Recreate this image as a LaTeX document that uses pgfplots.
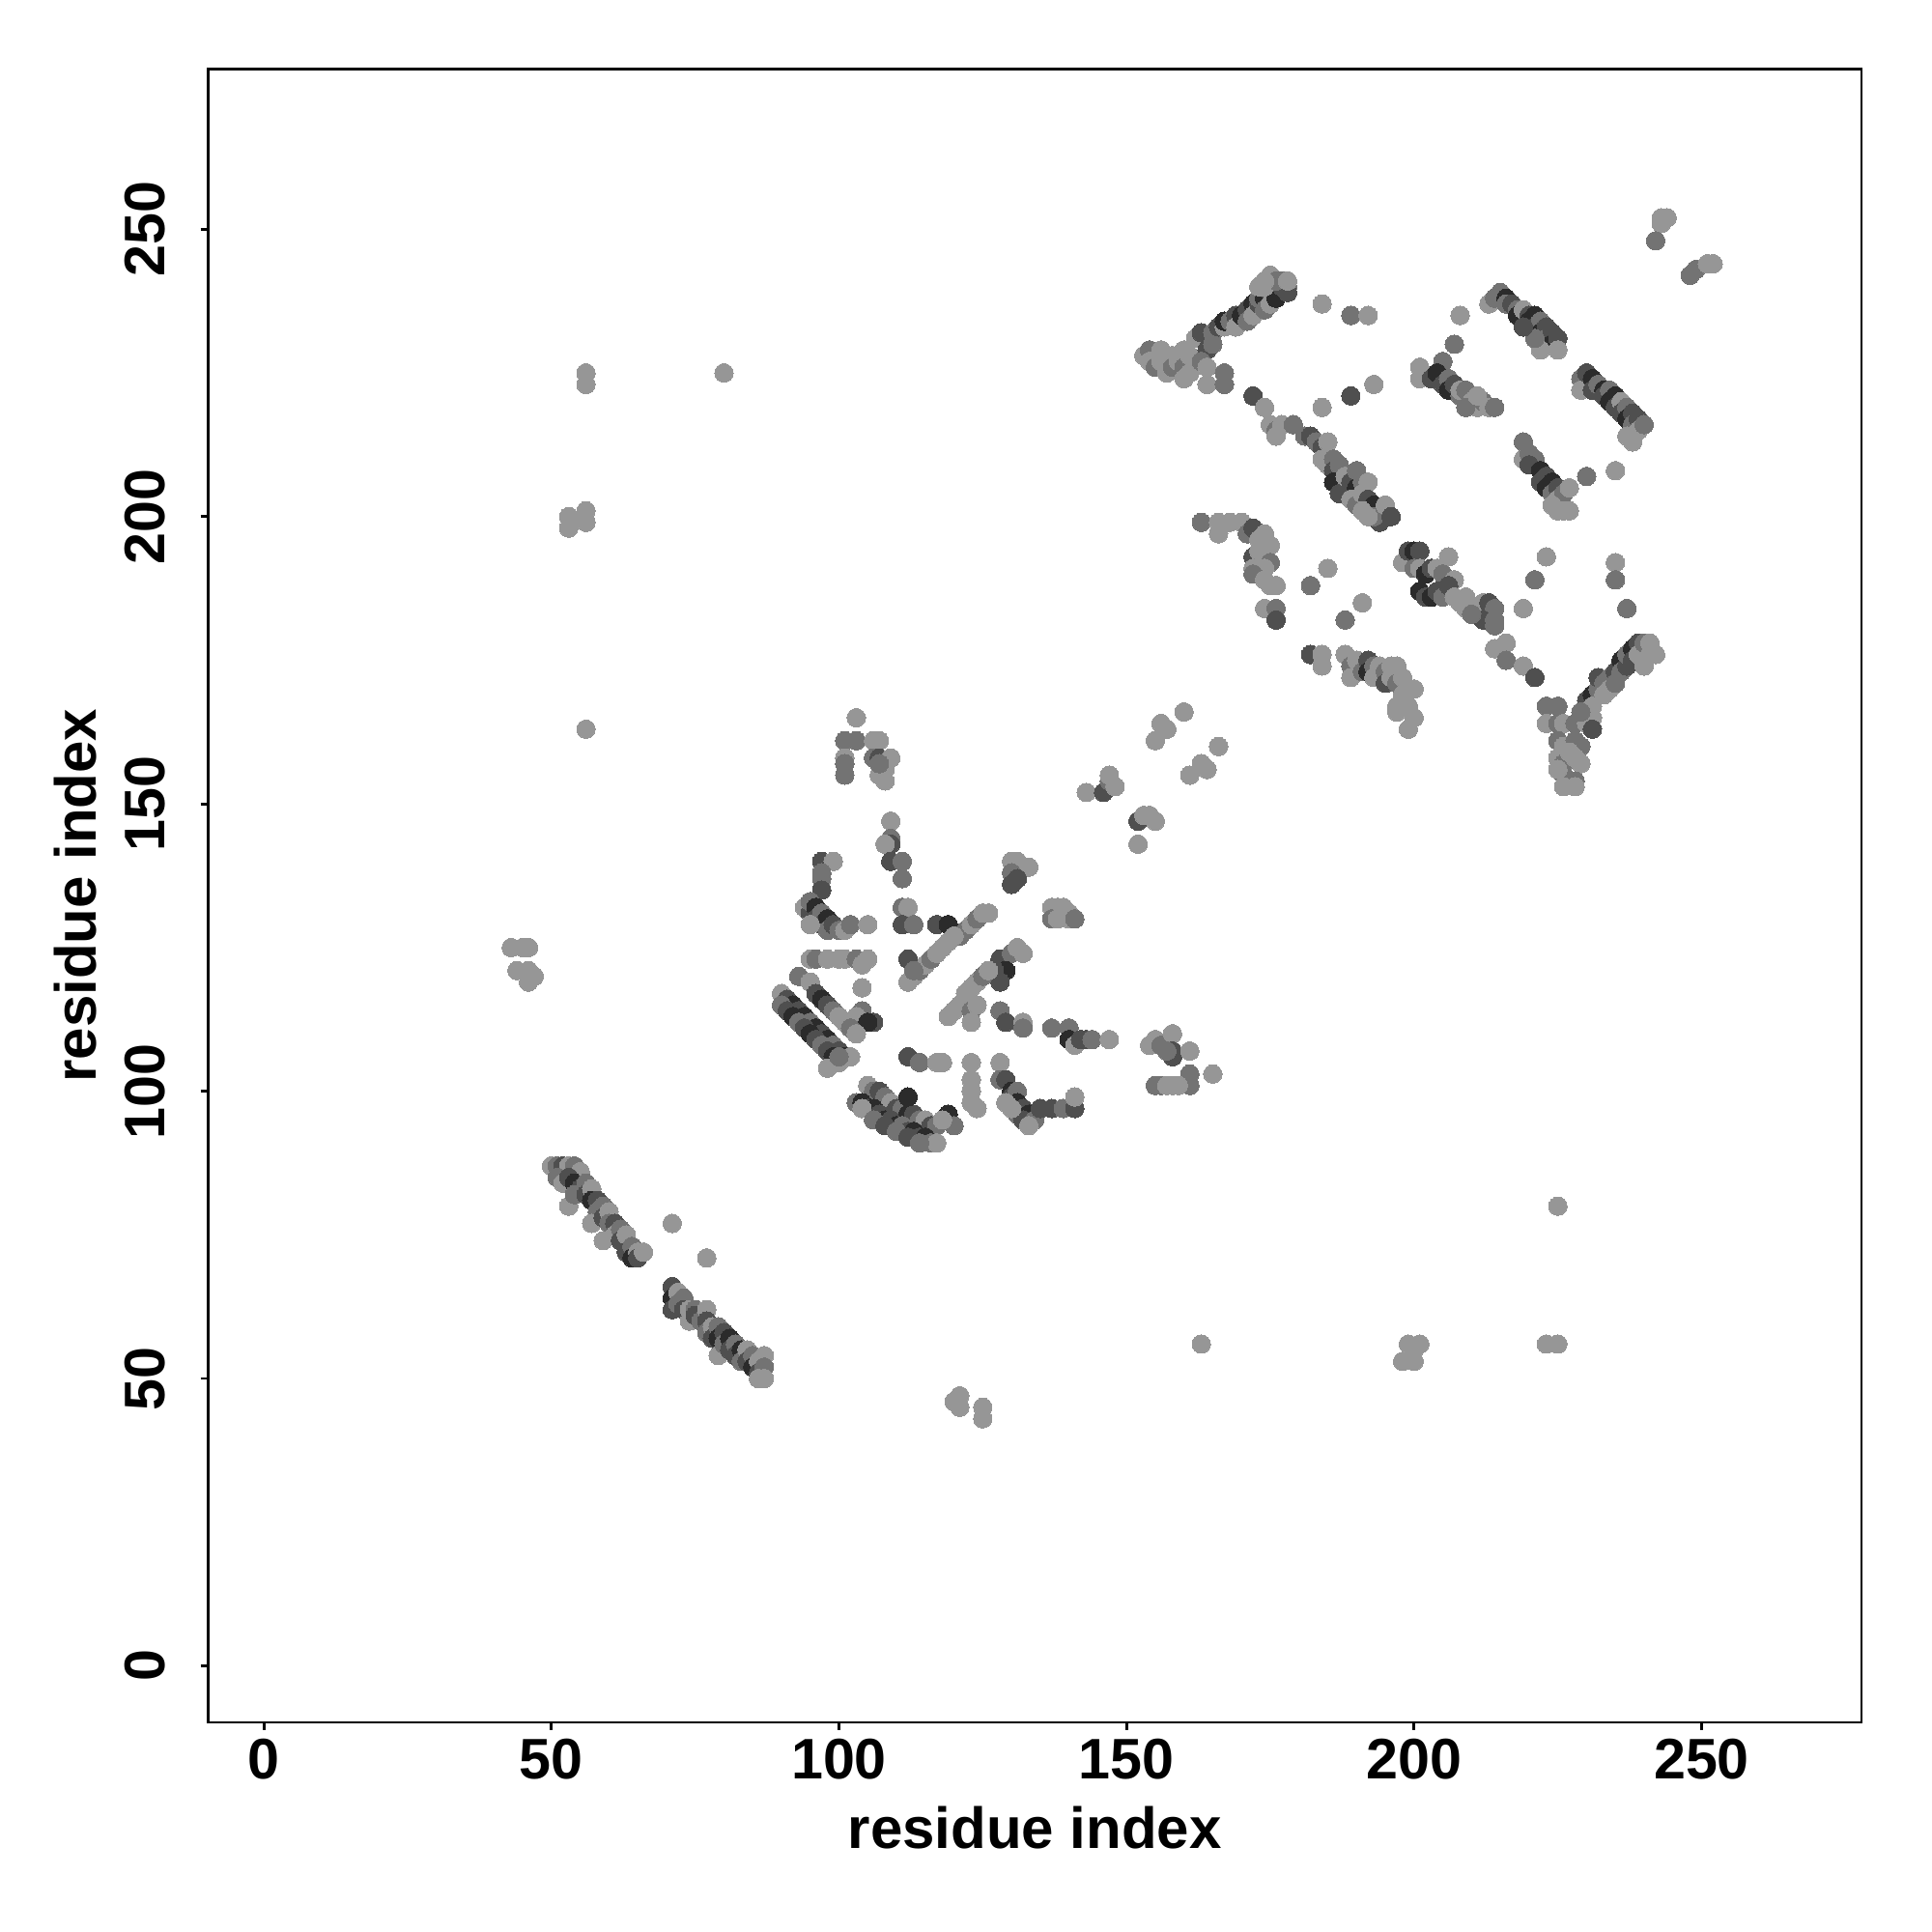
\documentclass[border=0pt]{standalone}
\usepackage{fontspec}
\setmainfont{Liberation Sans}
\usepackage{graphicx}
\usepackage{pgfplots}
\pgfplotsset{compat=1.18}
\begin{document}
\begin{tikzpicture}
\useasboundingbox (0,0) rectangle (500pt,500pt);
\begin{axis}[
  at={(53.9pt,54.25pt)}, anchor=south west,
  scale only axis, width=427.85pt, height=427.9pt,
  xmin=-9.68, xmax=277.8, ymin=-9.83, ymax=277.9,
  xtick={0,50,...,250}, ytick={0,50,...,250},
  tick align=outside, major tick length=2pt,
  xtick pos=left, ytick pos=left,
  axis line style={line width=0.7pt},
  every tick/.style={black, line width=0.7pt},
  tick label style={font=\fontsize{14.8}{17}\selectfont\bfseries},
  /pgf/number format/assume math mode=true,
  xticklabel style={anchor=north, inner sep=0pt, yshift=-2.1pt},
  yticklabel={\rotatebox{90}{\pgfmathprintnumber{\tick}}},
  yticklabel style={anchor=east, inner sep=0pt, xshift=-8.9pt},
  xlabel={residue index}, ylabel={residue index},
  label style={font=\fontsize{15}{18}\selectfont\bfseries},
  xlabel style={at={(axis description cs:0.5,-0.076)}, anchor=base},
  ylabel style={at={(axis description cs:-0.068,0.5)}, anchor=base},
  colormap={bw}{gray(0cm)=(0.12); gray(1cm)=(0.59)},
  point meta min=0, point meta max=1,
]
% contacts, c = grey level (0 dark .. 1 light)
\addplot[scatter, only marks, mark=*, mark size=2.4pt, scatter src=explicit,
  mark options={line width=0pt},
  scatter/use mapped color={draw=mapped color, fill=mapped color}]
  table[row sep=\\, meta=c] {
x y c\\
50 87 1\\51 87 .7\\52 87 .4\\53 87 1\\54 87 .7\\55 86 1\\51 85 .7\\52 84 1\\53 85 .4\\54 84 .1\\
55 83 .4\\53 80 1\\54 82 .7\\56 84 .7\\56 82 .4\\57 83 1\\57 81 .1\\58 81 .4\\58 79 .7\\59 80 .7\\
57 77 1\\59 78 .4\\60 79 1\\60 77 .7\\61 77 .4\\61 75 1\\59 74 1\\62 76 .7\\62 74 .4\\63 75 1\\
63 72 .4\\64 73 .7\\64 71 .1\\65 72 1\\65 71 .4\\66 72 1\\71 77 1\\77 71 1\\
71 66 .4\\71 64 .1\\71 62 .4\\72 65 1\\72 63 .7\\73 64 .7\\73 62 .4\\74 60 1\\74 62 1\\75 62 .7\\
75 61 .4\\76 60 .7\\77 62 1\\77 60 .4\\77 58 .7\\78 59 1\\78 57 .4\\79 59 .7\\79 57 .1\\80 58 .4\\
79 54 1\\80 56 .7\\81 57 .1\\81 55 .4\\82 56 .7\\82 54 .4\\83 55 .1\\83 53 .7\\84 55 1\\84 53 .4\\
85 54 .7\\85 52 .1\\86 53 1\\86 51 .4\\87 54 1\\87 52 .7\\87 50 1\\86 50 1\\
56 225 1\\56 223 1\\80 225 1\\53 200 1\\53 198 1\\56 201 1\\56 199 1\\56 163 1\\
43 125 1\\45 125 1\\46 125 1\\44 121 1\\46 121 1\\46 119 1\\47 120 1\\
120 46 1\\121 47 1\\121 45 1\\125 45 1\\125 43 1\\163 56 1\\199 56 1\\201 56 1\\198 53 1\\200 53 1\\
200 55 1\\223 56 1\\225 56 1\\225 80 1\\
243 252 1\\244 252 1\\243 251 1\\242 248 .7\\248 242 .7\\249 243 .7\\251 244 1\\252 244 1\\
103 165 1\\101 161 .7\\103 161 .7\\106 161 1\\107 161 1\\101 158 1\\101 157 .7\\101 155 .7\\
106 158 .7\\107 158 .4\\109 158 1\\108 156 1\\107 155 1\\108 154 1\\107 157 .7\\109 147 1\\
109 144 .7\\109 143 .4\\108 143 1\\109 140 .4\\111 140 .7\\111 137 .7\\97 140 .4\\99 140 1\\
97 138 .7\\97 137 .7\\97 135 .4\\111 132 .7\\112 132 1\\
94 132 1\\95 131 .4\\95 133 .7\\96 132 .1\\96 130 .4\\97 131 .7\\97 129 .4\\98 130 .1\\98 128 .7\\
99 129 .4\\100 128 .7\\101 128 1\\102 129 .7\\95 129 1\\105 129 1\\
111 129 .4\\113 129 .7\\117 129 .4\\119 129 .1\\
121 127 .7\\122 128 .7\\123 129 1\\124 130 .7\\125 131 1\\126 131 1\\
130 140 1\\131 140 1\\132 139 1\\133 139 1\\130 138 .7\\131 137 .4\\130 136 .4\\
137 132 1\\138 132 1\\139 132 1\\140 131 1\\137 130 .7\\138 130 1\\140 130 1\\141 130 .7\\
95 123 1\\96 123 .7\\98 123 1\\100 123 1\\101 123 1\\103 123 .7\\105 123 1\\104 122 1\\
112 119 1\\113 120 1\\114 121 .7\\115 122 1\\116 123 .7\\117 124 1\\118 125 1\\119 126 1\\
120 127 1\\112 123 .4\\113 121 .7\\
104 118 1\\104 114 .7\\106 112 .4\\103 113 1\\105 112 .1\\
128 123 .4\\130 124 .7\\131 125 1\\132 124 1\\129 121 .1\\128 119 .4\\127 121 .4\\
119 113 1\\120 114 1\\121 115 1\\122 117 1\\123 118 1\\124 119 1\\125 120 .7\\126 121 1\\
123 114 .7\\123 112 1\\124 115 1\\
128 114 .7\\129 112 .4\\132 112 1\\132 111 .7\\
93 120 .7\\95 119 1\\96 117 .4\\97 116 .1\\98 115 .4\\99 114 .7\\100 113 1\\101 112 1\\102 111 .7\\103 110 1\\
90 117 1\\91 116 .4\\92 115 .1\\93 114 .4\\94 113 .1\\95 112 .7\\96 111 .1\\97 110 .4\\98 109 .1\\
99 108 .7\\100 107 .4\\101 106 .1\\102 106 1\\
90 115 .7\\91 114 .4\\92 113 .1\\93 112 .7\\94 111 .4\\95 110 .1\\96 109 .4\\97 108 .7\\98 107 .4\\
99 106 .1\\100 105 1\\98 104 1\\100 106 .7\\
112 106 .4\\114 105 .7\\117 105 1\\118 105 1\\
123 105 1\\123 102 1\\123 100 1\\124 97 1\\123 98 1\\
105 101 1\\106 100 .7\\107 100 .4\\108 99 .7\\109 98 1\\110 97 .4\\111 97 .7\\112 96 .1\\113 96 .4\\
114 95 .7\\115 95 1\\116 94 .4\\117 94 .7\\
103 98 .7\\104 98 .1\\105 97 .4\\106 97 .1\\107 96 .4\\108 95 .1\\109 95 .4\\110 94 .1\\111 94 .7\\
112 93 .4\\113 93 .1\\114 92 .4\\115 92 .1\\116 91 .7\\117 91 1\\
104 97 1\\106 95 .7\\108 94 .4\\110 93 .7\\112 92 .4\\114 91 .7\\
112 99 .1\\119 96 .1\\120 94 .7\\118 95 1\\
128 105 1\\128 102 .7\\129 102 .4\\130 100 .1\\130 99 .4\\131 100 .7\\131 98 .1\\132 97 .4\\
131 96 .7\\133 96 .1\\132 95 .4\\134 95 .7\\130 97 1\\129 98 1\\133 94 1\\
135 97 .4\\137 97 .4\\139 97 .7\\141 97 .4\\141 99 1\\
137 111 .7\\140 111 .7\\140 109 .1\\141 108 1\\142 109 .4\\143 109 .4\\144 109 .7\\147 109 1\\
154 108 1\\155 109 1\\156 108 .7\\158 110 1\\158 107 .4\\158 106 .4\\161 107 1\\157 107 .7\\
161 103 .7\\161 101 .7\\165 103 1\\155 101 .7\\156 101 .7\\157 101 1\\158 101 1\\159 101 1\\
160 166 1\\156 164 1\\157 163 1\\155 161 1\\166 160 1\\163 157 1\\164 156 1\\161 155 1\\
143 152 1\\146 152 .4\\147 154 .7\\148 153 1\\147 155 1\\
152 147 .4\\153 148 1\\154 148 1\\155 147 1\\152 143 1\\
153 228 1\\154 229 .7\\154 227 1\\155 226 .7\\156 229 1\\156 227 1\\157 225 1\\158 228 1\\
158 226 .7\\159 227 1\\160 229 1\\160 226 .7\\161 225 1\\161 228 1\\162 231 1\\163 232 .4\\
164 229 .4\\163 227 .7\\164 226 1\\164 223 1\\165 230 .7\\167 225 .7\\167 223 .7\\160 224 1\\
165 232 .7\\166 233 .4\\167 233 1\\167 234 .1\\168 234 .7\\169 235 .4\\169 233 1\\170 235 .1\\
171 236 .4\\171 234 .7\\172 237 .1\\172 235 1\\173 237 .4\\173 238 .7\\174 238 .1\\174 236 .7\\
175 239 .4\\175 237 1\\176 240 .7\\176 238 .1\\177 240 .4\\177 241 .7\\178 240 .7\\178 239 .4\\
174 240 1\\175 242 1\\176 241 .7\\178 241 1\\173 240 1\\174 241 1\\
184 237 1\\189 235 .7\\192 235 1\\193 223 1\\189 221 .4\\184 219 1\\172 221 .4\\174 219 1\\
175 216 1\\176 215 .7\\177 216 1\\176 214 1\\179 216 .7\\181 214 .7\\182 214 .4\\183 213 .7\\
184 212 .4\\185 213 1\\184 210 1\\185 209 1\\186 210 .7\\186 208 .4\\187 209 .7\\186 206 .1\\
187 204 .4\\188 207 1\\189 206 .4\\190 208 .7\\190 205 .1\\191 206 .7\\189 203 1\\190 202 .7\\
191 204 1\\192 206 1\\192 203 .4\\193 202 .1\\194 201 .1\\195 200 .1\\194 199 .4\\193 200 .7\\
195 202 1\\196 200 .4\\192 200 1\\191 201 1\\
185 191 1\\182 188 .7\\191 185 1\\188 182 .7\\
163 199 .7\\166 199 1\\166 197 1\\168 199 1\\170 199 1\\171 197 .7\\172 198 .4\\173 196 1\\
174 197 1\\175 195 1\\172 193 .4\\173 194 1\\175 192 .7\\172 191 1\\174 191 1\\172 190 .7\\
174 189 1\\175 188 1\\176 188 1\\174 184 1\\176 184 .7\\176 182 .4\\
182 176 .4\\184 176 1\\184 174 1\\188 176 1\\189 174 .7\\189 172 1\\190 175 1\\191 173 .7\\
192 175 .4\\192 173 .1\\193 174 .7\\193 172 1\\194 174 1\\195 173 .7\\195 171 .4\\196 174 1\\
196 172 1\\197 174 1\\197 171 .7\\198 172 1\\197 167 1\\198 169 1\\200 170 1\\197 166 1\\
199 167 1\\199 163 1\\200 165 1\\
198 192 1\\199 194 .4\\200 194 .1\\201 194 .4\\200 191 .7\\201 191 1\\202 190 .1\\203 191 .4\\
204 191 1\\206 193 1\\205 190 .7\\207 189 1\\201 187 .1\\202 186 .4\\203 186 .1\\204 187 .4\\
205 186 .7\\206 188 .4\\207 186 1\\209 186 1\\208 185 1\\209 184 1\\211 184 1\\212 185 1\\
213 185 .4\\214 184 .7\\212 182 .4\\214 182 .7\\214 181 .7\\210 183 .7\\
219 184 1\\221 189 .7\\223 193 1\\235 208 1\\230 207 .7\\235 192 1\\235 189 .7\\237 184 .7\\
214 177 1\\216 178 1\\216 175 .7\\219 174 1\\221 172 .4\\
223 167 .7\\225 167 .7\\223 164 1\\225 164 .7\\226 164 1\\228 164 .7\\230 164 1\\231 165 1\\
231 163 .4\\225 161 .7\\226 160 1\\228 161 .7\\229 160 .7\\225 158 1\\226 157 .7\\228 158 1\\
229 157 1\\226 155 .7\\228 154 .7\\228 153 1\\226 153 1\\225 156 1\\227 159 1\\
230 168 .4\\231 169 .1\\232 170 .7\\231 167 1\\232 172 .4\\233 171 .7\\233 169 1\\234 172 .7\\
234 170 1\\235 173 .4\\235 171 .7\\236 175 .1\\236 173 .7\\237 174 .4\\237 176 .7\\238 177 .1\\
238 175 .4\\239 178 .4\\239 176 1\\240 178 .7\\240 174 1\\241 178 1\\241 176 1\\242 176 1\\229 166 .7\\
213 237 1\\214 238 .7\\215 239 .7\\216 238 .1\\216 237 .7\\217 237 .4\\218 236 .7\\218 235 .1\\
219 236 1\\220 235 .4\\220 234 .1\\221 235 .1\\221 233 .4\\222 234 .7\\222 232 .1\\223 233 .4\\
223 231 .7\\224 232 .4\\224 230 .1\\225 231 .4\\225 229 1\\222 229 1\\221 231 .7\\219 233 .4\\
229 224 .7\\229 222 1\\230 225 .4\\231 224 .1\\231 222 .4\\232 223 .7\\233 222 .1\\233 221 .4\\
234 222 .7\\234 220 .1\\235 221 .1\\235 219 .4\\236 220 1\\236 218 .4\\237 219 .7\\237 217 .1\\
238 218 .4\\238 216 .7\\239 217 .4\\239 215 1\\240 216 .7\\237 214 1\\238 213 1\\
201 226 1\\201 224 1\\205 227 .7\\207 230 .7\\208 235 1\\203 224 .4\\204 225 .1\\205 223 .4\\
206 224 .7\\206 222 .1\\207 223 .4\\208 221 .7\\208 222 1\\209 222 .7\\210 220 1\\211 219 1\\
212 220 .7\\213 219 1\\214 219 .7\\209 219 .7\\211 221 1\\
219 213 .7\\219 210 1\\220 211 .7\\221 210 .7\\220 209 .4\\222 208 .1\\222 206 .4\\223 207 .4\\
223 205 .1\\224 206 .1\\224 204 .7\\225 205 .4\\225 203 1\\226 204 .7\\227 205 1\\224 202 1\\
225 201 1\\226 201 1\\227 201 1\\
};
\end{axis}
\end{tikzpicture}
\end{document}
